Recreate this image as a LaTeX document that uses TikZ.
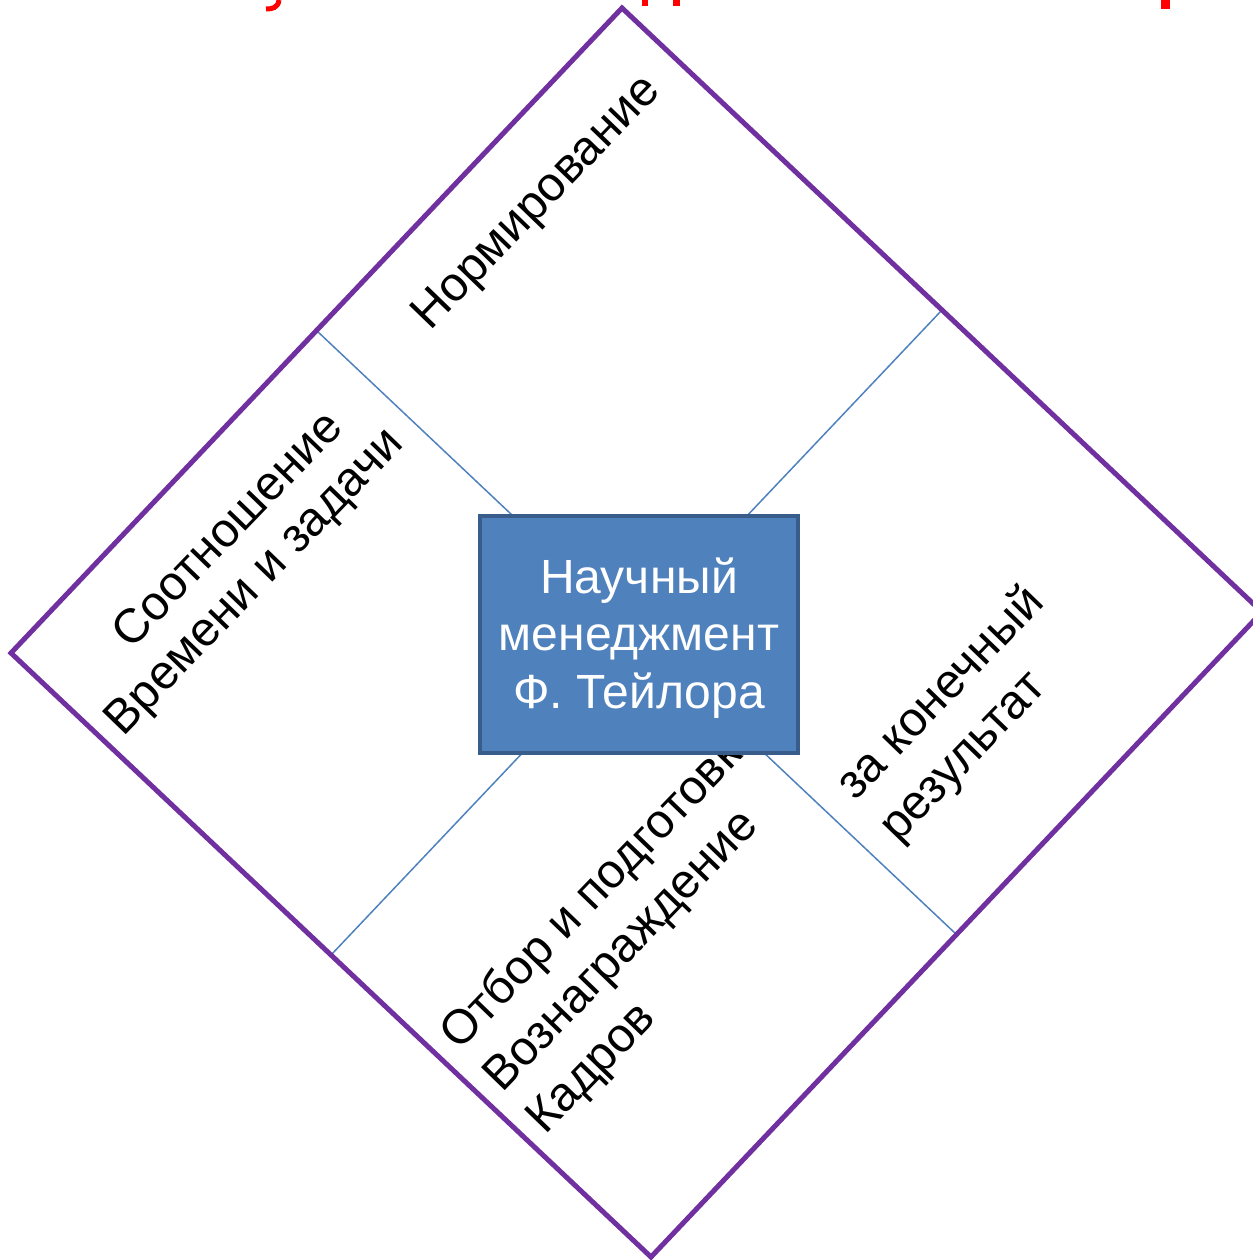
\documentclass[tikz,border=0pt]{standalone}
\usepackage{fontspec}
\setmainfont{Liberation Sans}
\definecolor{frame}{HTML}{7030A0}
\definecolor{thin}{HTML}{4F81BD}
\definecolor{boxfill}{HTML}{4F81BD}
\definecolor{boxline}{HTML}{385D8A}
\definecolor{title}{HTML}{FF0000}
\begin{document}
\begin{tikzpicture}[x=1pt,y=-1pt,
  frameline/.style={draw=frame, line width=5pt, line join=miter},
  divider/.style={draw=thin, line width=1.5pt},
  lab/.style={rotate=46, inner sep=0pt, font=\fontsize{48}{60}\selectfont},
  centerbox/.style={draw=boxline, fill=boxfill, line width=3.5pt,
    minimum width=318pt, minimum height=237pt, inner sep=0pt},
  boxtext/.style={text=white, inner sep=0pt, align=center,
    font=\fontsize{48}{57.5}\selectfont},
  titlebit/.style={fill=title, draw=none}]
\useasboundingbox (0,0) rectangle (1252,1260);
% title fragments (clipped red heading)
\draw[title, line width=5pt] (279,0) .. controls (278,8) and (272,9) .. (266,9);
\fill[titlebit] (642,0) rectangle (648,6);
\fill[titlebit] (673,0) rectangle (680,6);
\fill[titlebit] (1161,0) rectangle (1170,9.5);
% diamond
\coordinate (T) at (622,8);
\coordinate (R) at (1262,612);
\coordinate (B) at (651,1257);
\coordinate (L) at (11,653);
\coordinate (mTL) at (316.5,330.5);
\coordinate (mTR) at (942,310);
\coordinate (mBR) at (956.5,934.5);
\coordinate (mBL) at (331,955);
\draw[divider] (mTL) -- (mBR);
\draw[divider] (mTR) -- (mBL);
\draw[frameline] (T) -- (R) -- (B) -- (L) -- cycle;
% labels
\node[lab] (norm) at (538,204) {Нормирование};
\node[lab] (sootn) at (226,528) {Соотношение};
\node[lab] (vrem) at (256,583) {Времени и задачи};
\node[lab, anchor=base west] (otbor) at (459,1052) {Отбор и подготовка};
\node[lab, anchor=base west] (vozn) at (502,1094) {Вознаграждение};
\node[lab, anchor=base west] (kadr) at (545,1136) {Кадров};
\node[lab, anchor=base west] (zakon) at (855,802) {за конечный};
\node[lab, anchor=base west] (rez) at (898,844) {результат};
% centre box
\node[centerbox] (center) at (639,634.5) {};
\node[boxtext] (ctext) at (639,638) {Научный\\менеджмент\\Ф. Тейлора};
\end{tikzpicture}
\end{document}
